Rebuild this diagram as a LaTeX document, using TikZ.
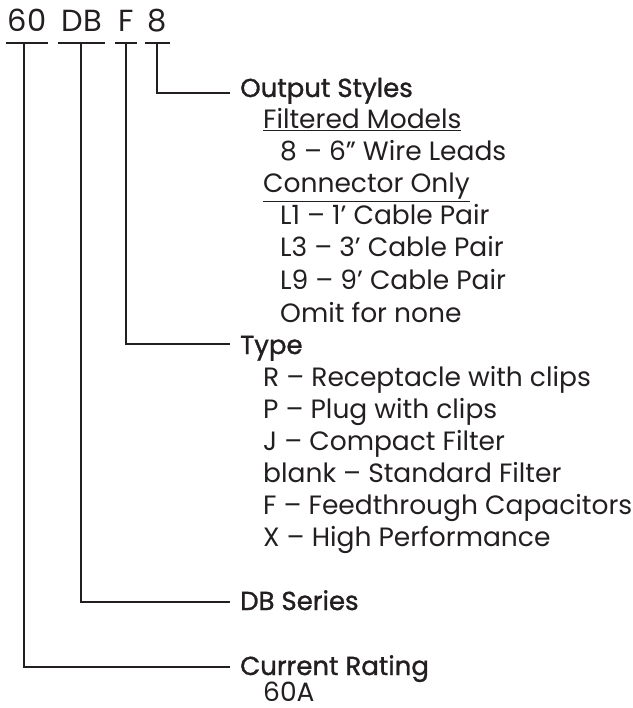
\documentclass[tikz,border=0pt]{standalone}
\usepackage{fontspec}
\setmainfont{Poppins}
\newfontfamily\headfont[FakeBold=1.2]{Poppins}
\definecolor{ink}{HTML}{231F20}
\begin{document}
\begin{tikzpicture}[x=1pt,y=-1pt,
  item/.style={anchor=base west,inner sep=0pt,text=ink,font=\fontsize{26.5}{26.5}\selectfont},
  head/.style={anchor=base west,inner sep=0pt,text=ink,font=\fontsize{26}{26}\selectfont\headfont},
  code/.style={anchor=base,inner sep=0pt,text=ink,font=\fontsize{30.5}{30.5}\selectfont},
  wire/.style={draw=ink,line width=2pt}]
\useasboundingbox (0,0) rectangle (632,708);
% part code
\node[code] (c60) at (27,32) {60};
\node[code] (cDB) at (82,32) {DB};
\node[code] (cF) at (126.5,32) {F};
\node[code] (c8) at (157,32) {8};
% bars
\coordinate (b60l) at (6,43);  \coordinate (b60r) at (48,43);
\coordinate (bDBl) at (58,43); \coordinate (bDBr) at (105,43);
\coordinate (bFl) at (115,43); \coordinate (bFr) at (137,43);
\coordinate (b8l) at (145,43); \coordinate (b8r) at (170,43);
\draw[wire] (b60l) -- (b60r);
\draw[wire] (bDBl) -- (bDBr);
\draw[wire] (bFl) -- (bFr);
\draw[wire] (b8l) -- (b8r);
% headings
\node[head] (hOut) at (240,97) {Output Styles};
\node[head] (hType) at (240,354) {Type};
\node[head] (hDB) at (240,610) {DB Series};
\node[head] (hCur) at (240,675) {Current Rating};
% connectors
\coordinate (t60) at (24,43); \coordinate (e60) at (230,667);
\coordinate (tDB) at (81,43); \coordinate (eDB) at (230,602);
\coordinate (tF) at (126,43); \coordinate (eF) at (230,344);
\coordinate (t8) at (157,43); \coordinate (e8) at (230,93);
\draw[wire] (t8) |- (e8);
\draw[wire] (tF) |- (eF);
\draw[wire] (tDB) |- (eDB);
\draw[wire] (t60) |- (e60);
% output styles list
\node[item] (fm) at (263,129) {\underline{Filtered Models}};
\node[item] (o8) at (280,161) {8 – 6” Wire Leads};
\node[item] (co) at (263,193) {\underline{Connector Only}};
\node[item] (l1) at (280,225) {L1 – 1’ Cable Pair};
\node[item] (l3) at (280,257) {L3 – 3’ Cable Pair};
\node[item] (l9) at (280,289) {L9 – 9’ Cable Pair};
\node[item] (om) at (280,322) {Omit for none};
% type list
\node[item] (tr) at (263,386) {R – Receptacle with clips};
\node[item] (tp) at (263,418) {P – Plug with clips};
\node[item] (tj) at (263,450) {J – Compact Filter};
\node[item] (tb) at (263,482) {blank – Standard Filter};
\node[item] (tf) at (263,514) {F – Feedthrough Capacitors};
\node[item] (tx) at (263,546) {X – High Performance};
% current rating
\node[item] (a60) at (263,701) {60A};
\end{tikzpicture}
\end{document}
